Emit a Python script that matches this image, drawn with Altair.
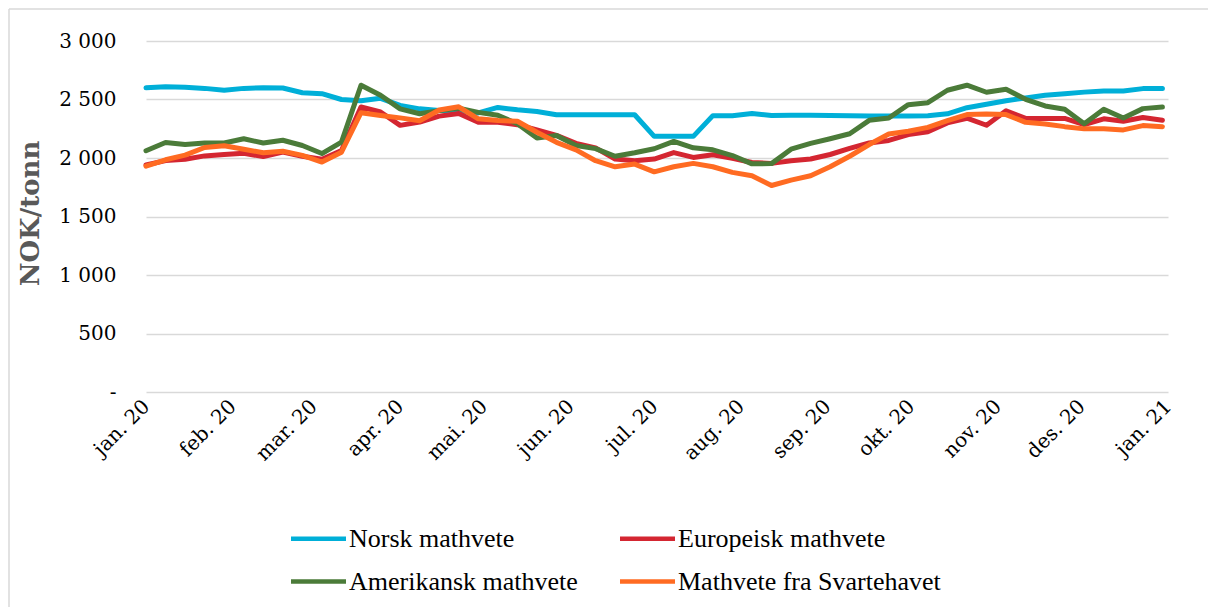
import altair as alt
import pandas as pd

series_names = ["Norsk mathvete", "Europeisk mathvete", "Amerikansk mathvete", "Mathvete fra Svartehavet"]
series_colors = ["#00AFD8", "#D42631", "#4B7B39", "#FF6B22"]
# legend fills column by column: column 1 = Norsk, Amerikansk; column 2 = Europeisk, Svartehavet
legend_order = [0, 2, 1, 3]

dates = [
    "2020-01-01", "2020-01-08", "2020-01-15", "2020-01-22", "2020-01-29",
    "2020-02-05", "2020-02-12", "2020-02-19", "2020-02-26",
    "2020-03-04", "2020-03-11", "2020-03-18", "2020-03-25",
    "2020-04-01", "2020-04-08", "2020-04-15", "2020-04-22", "2020-04-29",
    "2020-05-06", "2020-05-13", "2020-05-20", "2020-05-27",
    "2020-06-03", "2020-06-10", "2020-06-17", "2020-06-24",
    "2020-07-01", "2020-07-08", "2020-07-15", "2020-07-22", "2020-07-29",
    "2020-08-05", "2020-08-12", "2020-08-19", "2020-08-26",
    "2020-09-02", "2020-09-09", "2020-09-16", "2020-09-23", "2020-09-30",
    "2020-10-07", "2020-10-14", "2020-10-21", "2020-10-28",
    "2020-11-04", "2020-11-11", "2020-11-18", "2020-11-25",
    "2020-12-02", "2020-12-09", "2020-12-16", "2020-12-23", "2020-12-30",
]

norsk = [2600, 2608, 2605, 2595, 2580, 2595, 2600, 2598, 2558, 2550, 2500, 2490, 2510,
         2450, 2420, 2406, 2400, 2385, 2432, 2412, 2397, 2370, 2370, 2370, 2370, 2370,
         2185, 2185, 2185, 2362, 2362, 2380, 2363, 2366, 2366, 2364, 2362, 2360, 2358,
         2358, 2362, 2378, 2430, 2460, 2490, 2513, 2536, 2550, 2563, 2573, 2573, 2593, 2593]

europeisk = [1940, 1978, 1990, 2018, 2030, 2040, 2012, 2050, 2015, 1990, 2064, 2436, 2393,
             2279, 2307, 2358, 2380, 2305, 2305, 2285, 2240, 2193, 2125, 2086, 1991, 1977,
             1991, 2046, 2005, 2028, 1997, 1962, 1954, 1977, 1991,
             2030, 2082, 2128, 2150, 2200, 2225, 2300, 2340, 2280, 2403, 2338, 2338, 2338,
             2286, 2335, 2314, 2346, 2323]

amerikansk = [2062, 2133, 2115, 2128, 2128, 2164, 2128, 2152, 2107, 2038, 2136, 2622, 2536,
              2420, 2378, 2405, 2425, 2390, 2365, 2293, 2170, 2193, 2107, 2080, 2015, 2045,
              2079, 2142, 2087, 2070, 2021, 1950, 1952,
              2075, 2125, 2165, 2207, 2322, 2342, 2456, 2473, 2579, 2622, 2562, 2587, 2502,
              2445, 2416, 2293, 2416, 2342, 2422, 2436]

svartehavet = [1930, 1985, 2025, 2090, 2105, 2075, 2045, 2058, 2022, 1965, 2050, 2387, 2364,
               2343, 2318, 2410, 2438, 2335, 2320, 2314, 2220, 2134, 2069, 1977, 1925, 1948,
               1882, 1925, 1954, 1925, 1877, 1848, 1765, 1811, 1848,
               1925, 2015, 2115, 2205, 2228, 2262, 2320, 2371, 2377, 2371, 2305, 2291, 2268,
               2249, 2249, 2240, 2277, 2268]

y_ticks = [0, 500, 1000, 1500, 2000, 2500, 3000]
month_labels = ["jan.", "feb.", "mar.", "apr.", "mai.", "jun.", "jul.", "aug.", "sep.", "okt.", "nov.", "des."]

rows = []
for name, vals in zip(series_names, [norsk, europeisk, amerikansk, svartehavet]):
    for d, v in zip(dates, vals):
        rows.append({"dato": d, "serie": name, "pris": v})
df = pd.DataFrame(rows)

PLOT_W, PLOT_H = 1022, 351
PAD_L, PAD_T = 146, 41

x_values = [alt.DateTime(year=2020, month=m, date=1, utc=True) for m in range(1, 13)]
x_values.append(alt.DateTime(year=2021, month=1, date=1, utc=True))

month_arr = "[" + ",".join("'%s'" % m for m in month_labels) + "]"

x_enc = alt.X(
    "dato:T",
    scale=alt.Scale(
        type="utc",
        domain=[alt.DateTime(year=2020, month=1, date=1, utc=True),
                alt.DateTime(year=2021, month=1, date=1, utc=True)],
    ),
    axis=alt.Axis(
        values=x_values,
        labelExpr=month_arr + "[utcmonth(datum.value)] + ' ' + utcFormat(datum.value, '%y')",
        labelAngle=315,
        labelAlign="right",
        labelBaseline="middle",
        labelFont="DejaVu Serif",
        labelFontSize=20,
        labelColor="#000000",
        labelPadding=11,
        labelOverlap=False,
        labelFlush=False,
        labelBound=False,
        ticks=False,
        domain=False,
        grid=False,
        title=None,
    ),
)

y_enc = alt.Y(
    "pris:Q",
    scale=alt.Scale(domain=[0, 3000], nice=False, zero=True),
    axis=alt.Axis(
        values=y_ticks,
        labelExpr="datum.value == 0 ? '-\u00a0\u00a0' : replace(format(datum.value, ','), ',', '\u00a0')",
        labelFont="DejaVu Serif",
        labelFontSize=20,
        labelColor="#000000",
        labelPadding=30,
        ticks=False,
        domain=False,
        grid=True,
        gridColor="#D9D9D9",
        gridWidth=1.6,
        title="NOK/tonn",
        titleFont="DejaVu Serif",
        titleFontSize=26,
        titleFontWeight="bold",
        titleColor="#595959",
        titleAngle=270,
        titleAlign="center",
        titleBaseline="middle",
        titleX=-116,
        titleY=172,
    ),
)

SYM = 22  # sqrt of symbol size; custom path spans 2.5 * SYM
color_enc = alt.Color(
    "serie:N",
    scale=alt.Scale(domain=[series_names[i] for i in legend_order],
                    range=[series_colors[i] for i in legend_order]),
    legend=alt.Legend(
        title=None,
        orient="none",
        legendX=290 - PAD_L + 15,
        legendY=484,
        columns=2,
        symbolType="M-2.5,0L2.5,0",
        symbolSize=SYM * SYM,
        symbolStrokeWidth=4.5,
        labelFont="Liberation Serif",
        labelFontSize=26,
        labelColor="#000000",
        labelLimit=500,
        labelOffset=17,
        columnPadding=33,
        rowPadding=16,
    ),
)

layers = []
for name in series_names:
    layers.append(
        alt.Chart(df)
        .transform_filter(alt.datum.serie == name)
        .mark_line(strokeWidth=5, strokeJoin="round", strokeCap="round")
        .encode(x=x_enc, y=y_enc, color=color_enc)
    )

frame_df = pd.DataFrame({"k": [0]})
top_border = alt.Chart(frame_df).mark_rule(color="#D9D9D9", strokeWidth=1.5).encode(
    x=alt.value(9 - PAD_L), x2=alt.value(1208 - PAD_L), y=alt.value(9 - PAD_T)
)
left_border = alt.Chart(frame_df).mark_rule(color="#D9D9D9", strokeWidth=1.5).encode(
    x=alt.value(9 - PAD_L), y=alt.value(9 - PAD_T), y2=alt.value(607 - PAD_T)
)

chart = (
    alt.layer(*layers, top_border, left_border)
    .properties(
        width=PLOT_W,
        height=PLOT_H,
        padding={"left": PAD_L, "top": PAD_T, "right": 1208 - PAD_L - PLOT_W, "bottom": 607 - PAD_T - PLOT_H},
        autosize=alt.AutoSizeParams(type="none"),
        background="#FFFFFF",
    )
    .configure_view(stroke=None)
)

chart.save("out.html", embed_options={"renderer": "svg", "actions": False})
